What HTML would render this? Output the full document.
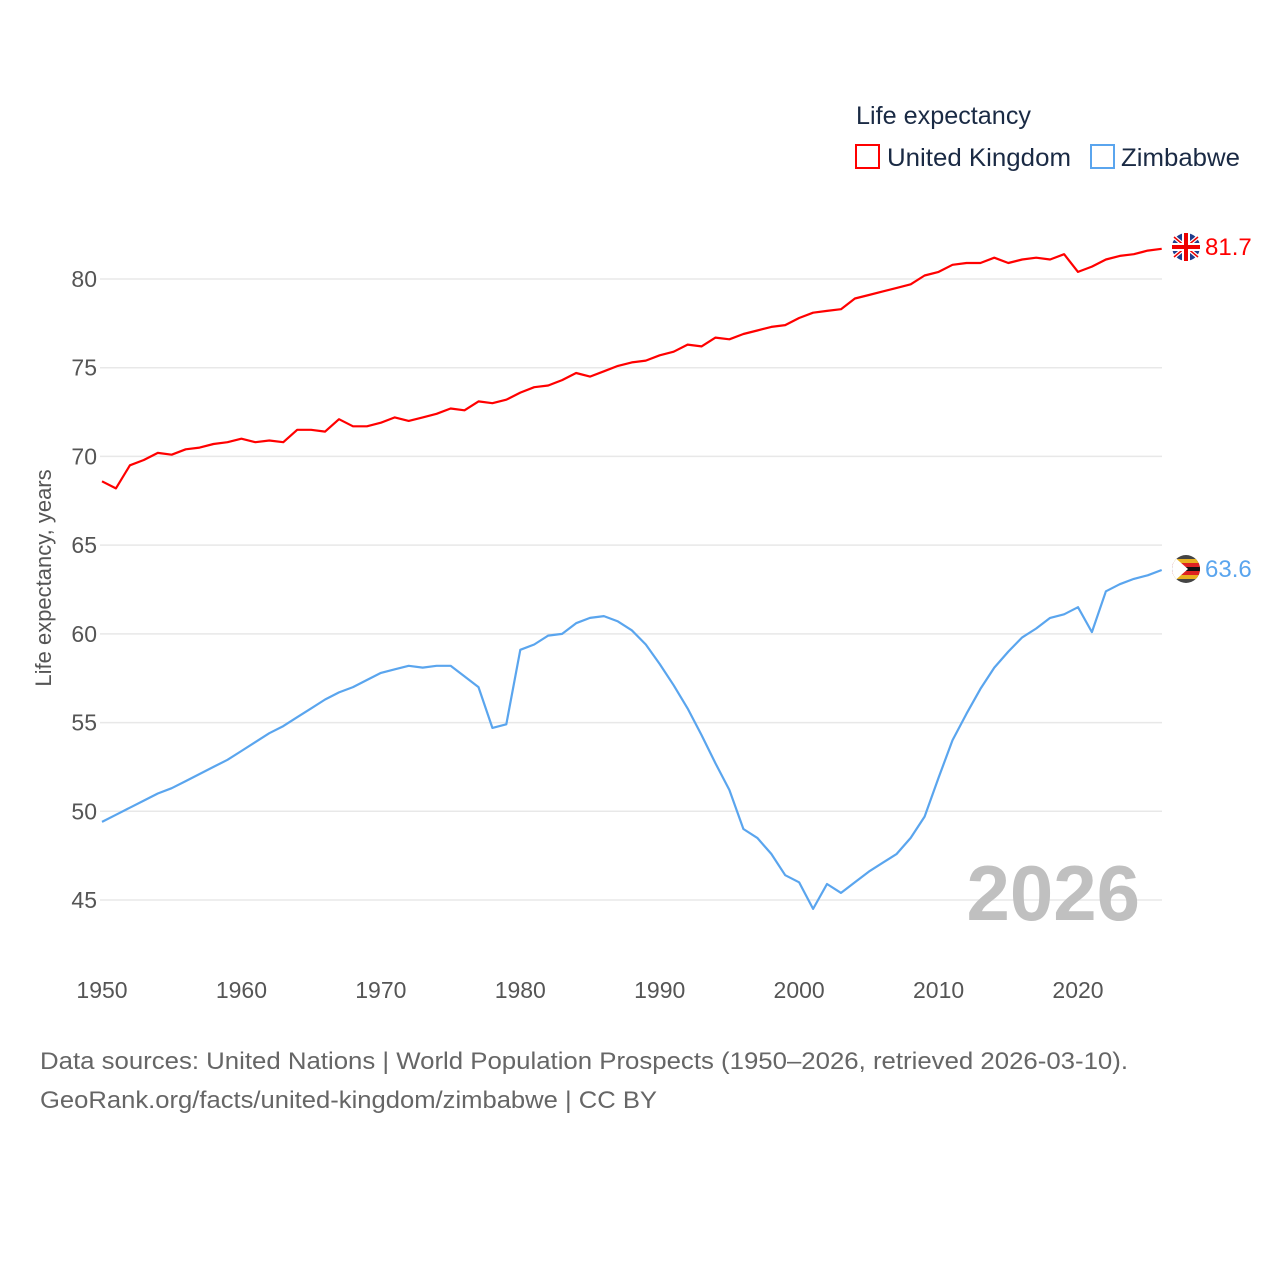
<!DOCTYPE html>
<html><head><meta charset="utf-8">
<style>
body{margin:0;background:#fff;font-family:"Liberation Sans",sans-serif;}
svg text{font-family:"Liberation Sans",sans-serif;}
</style></head>
<body>
<svg width="1280" height="1280" viewBox="0 0 1280 1280">
<text x="856" y="124" font-size="25" fill="#1a2a44" textLength="175" lengthAdjust="spacingAndGlyphs">Life expectancy</text>
<g>
<rect x="856" y="145" width="23" height="23" fill="none" stroke="#ff0000" stroke-width="2"/>
<text x="887" y="166" font-size="25" fill="#1a2a44" textLength="184" lengthAdjust="spacingAndGlyphs">United Kingdom</text></g>
<g>
<rect x="1091" y="145" width="23" height="23" fill="none" stroke="#5aa5ee" stroke-width="2"/>
<text x="1121" y="166" font-size="25" fill="#1a2a44" textLength="119" lengthAdjust="spacingAndGlyphs">Zimbabwe</text></g>
<g id="grid"></g><g id="yticks"></g><g id="xticks"></g>
<text transform="translate(51,578) rotate(-90)" text-anchor="middle" font-size="22" fill="#555">Life expectancy, years</text>
<text x="1140" y="920" text-anchor="end" font-size="78" font-weight="bold" fill="#c0c0c0">2026</text>
<g id="series"></g>
<g>
<circle cx="1186" cy="247" r="14" fill="#1f3d8c"/>
<line x1="1174" y1="237" x2="1198" y2="257" stroke="#fff" stroke-width="4"/><line x1="1198" y1="237" x2="1174" y2="257" stroke="#fff" stroke-width="4"/>
<line x1="1174" y1="237" x2="1198" y2="257" stroke="#e00" stroke-width="1.5"/><line x1="1198" y1="237" x2="1174" y2="257" stroke="#e00" stroke-width="1.5"/>
<rect x="1172" y="243" width="28" height="8" fill="#fff"/><rect x="1182" y="233" width="8" height="28" fill="#fff"/>
<rect x="1172" y="245" width="28" height="4" fill="#e00"/><rect x="1184" y="233" width="4" height="28" fill="#e00"/></g>
<g>
<clipPath id="zc"><circle cx="1186" cy="569" r="14"/></clipPath>
<g clip-path="url(#zc)"><rect x="1172" y="555" width="28" height="28" fill="#444"/>
<rect x="1172" y="559" width="28" height="4" fill="#e8b020"/><rect x="1172" y="563" width="28" height="4" fill="#d22"/>
<rect x="1172" y="567" width="28" height="4" fill="#111"/><rect x="1172" y="571" width="28" height="4" fill="#d22"/>
<rect x="1172" y="575" width="28" height="4" fill="#e8b020"/><polygon points="1172,555 1188,569 1172,583" fill="#fff"/></g></g>
<text x="1205" y="255" font-size="24" fill="#ff0000">81.7</text>
<text x="1205" y="577" font-size="24" fill="#5aa5ee">63.6</text>
<text x="40" y="1069" font-size="24" fill="#666" textLength="1088" lengthAdjust="spacingAndGlyphs">Data sources: United Nations | World Population Prospects (1950–2026, retrieved 2026-03-10).</text>
<text x="40" y="1108" font-size="24" fill="#666" textLength="617" lengthAdjust="spacingAndGlyphs">GeoRank.org/facts/united-kingdom/zimbabwe | CC BY</text>
</svg>
<script>
const years=[];for(let y=1950;y<=2026;y++)years.push(y);
const ukValues=[68.6,68.2,69.5,69.8,70.2,70.1,70.4,70.5,70.7,70.8,71.0,70.8,70.9,70.8,71.5,71.5,71.4,72.1,71.7,71.7,71.9,72.2,72.0,72.2,72.4,72.7,72.6,73.1,73.0,73.2,73.6,73.9,74.0,74.3,74.7,74.5,74.8,75.1,75.3,75.4,75.7,75.9,76.3,76.2,76.7,76.6,76.9,77.1,77.3,77.4,77.8,78.1,78.2,78.3,78.9,79.1,79.3,79.5,79.7,80.2,80.4,80.8,80.9,80.9,81.2,80.9,81.1,81.2,81.1,81.4,80.4,80.7,81.1,81.3,81.4,81.6,81.7];
const zwValues=[49.4,49.8,50.2,50.6,51.0,51.3,51.7,52.1,52.5,52.9,53.4,53.9,54.4,54.8,55.3,55.8,56.3,56.7,57.0,57.4,57.8,58.0,58.2,58.1,58.2,58.2,57.6,57.0,54.7,54.9,59.1,59.4,59.9,60.0,60.6,60.9,61.0,60.7,60.2,59.4,58.3,57.1,55.8,54.3,52.7,51.2,49.0,48.5,47.6,46.4,46.0,44.5,45.9,45.4,46.0,46.6,47.1,47.6,48.5,49.7,51.9,54.0,55.5,56.9,58.1,59.0,59.8,60.3,60.9,61.1,61.5,60.1,62.4,62.8,63.1,63.3,63.6];
const yTicks=[45,50,55,60,65,70,75,80];
const xTicks=[1950,1960,1970,1980,1990,2000,2010,2020];
const NS="http://www.w3.org/2000/svg";
const xs=v=>102+(v-1950)*(1078-102)/70;
const ys=v=>900-(v-45)*(900-279)/35;
function mk(tag,attrs,parent){const e=document.createElementNS(NS,tag);for(const k in attrs)e.setAttribute(k,attrs[k]);parent.appendChild(e);return e;}
const grid=document.getElementById('grid'),yt=document.getElementById('yticks'),xt=document.getElementById('xticks'),ser=document.getElementById('series');
yTicks.forEach(t=>{
 const l=mk('line',{x1:100,x2:1162,y1:ys(t),y2:ys(t),stroke:'#e8e8e8','stroke-width':1.5},grid);
 
 
 const tx=mk('text',{x:97,y:ys(t)+8,'text-anchor':'end','font-size':23,fill:'#555'},yt);tx.textContent=t;
 
 
});
xTicks.forEach(t=>{
 const tx=mk('text',{x:xs(t),y:998,'text-anchor':'middle','font-size':23,fill:'#555'},xt);tx.textContent=t;
 
 
});
function line(vals,color,name){
 const d=vals.map((v,i)=>(i?'L':'M')+xs(years[i]).toFixed(1)+','+ys(v).toFixed(1)).join('');
 const p=mk('path',{d:d,fill:'none',stroke:color,'stroke-width':2.2,'stroke-linejoin':'round'},ser);
 
 
}
line(ukValues,'#ff0000','uk-line');
line(zwValues,'#5aa5ee','zimbabwe-line');
</script>
</body></html>
